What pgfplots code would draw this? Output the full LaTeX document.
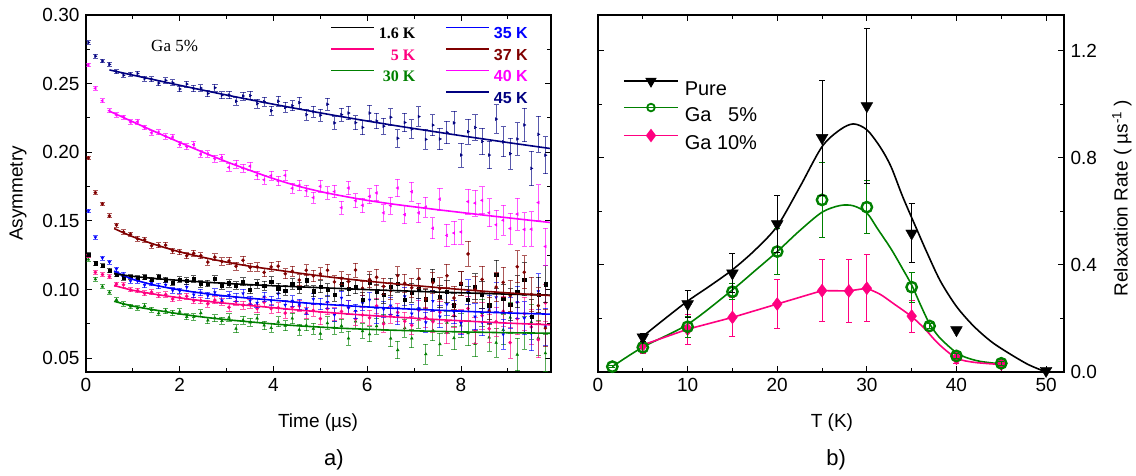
\documentclass[border=0pt]{standalone}
\usepackage{fontspec}
\setmainfont{Liberation Sans}
\newfontfamily\timesfont{Liberation Serif}
\usepackage{pgfplots}
\pgfplotsset{compat=1.18}
\usepackage{pgfplotstable}

\definecolor{cpink}{RGB}{255,0,128}
\definecolor{cgreen}{RGB}{0,128,0}
\definecolor{cblue}{RGB}{0,0,255}
\definecolor{cdred}{RGB}{128,0,0}
\definecolor{cmag}{RGB}{255,0,255}
\definecolor{cnavy}{RGB}{0,0,128}

\pgfplotstableread{
t err a16 a5 a30 a35 a37 a40 a45
0.05 .0013 .1255 .1245 .1220 .1572 .1960 .2636 .2800
0.20 .0014 .1193 .1125 .1076 .1380 .1707 .2466 .2700
0.35 .0014 .1173 .1110 .1023 .1230 .1624 .2376 .2665
0.50 .0015 .1139 .1095 .0980 .1200 .1537 .2303 .2640
0.65 .0015 .1110 .1040 .0926 .1150 .1470 .2272 .2588
0.80 .0016 .1085 .1035 .0895 .1110 .1420 .2256 .2561
0.95 .0016 .1092 .0999 .0878 .1062 .1403 .2221 .2569
1.10 .0017 .1083 .0993 .0865 .1063 .1370 .2223 .2574
1.25 .0018 .1091 .0973 .0881 .1033 .1364 .2181 .2537
1.40 .0018 .1074 .0982 .0853 .1046 .1321 .2142 .2532
1.55 .0019 .1095 .0959 .0828 .1027 .1323 .2146 .2504
1.70 .0020 .1072 .0964 .0846 .1034 .1324 .2116 .2524
1.85 .0020 .1052 .0931 .0831 .0994 .1283 .2111 .2507
2.00 .0021 .1074 .0943 .0840 .0990 .1275 .2058 .2461
2.15 .0022 .1063 .0952 .0802 .1018 .1246 .2042 .2497
2.30 .0023 .1077 .0920 .0801 .0963 .1265 .2056 .2464
2.45 .0023 .1042 .0920 .0829 .0978 .1247 .1987 .2468
2.60 .0024 .1045 .0897 .0776 .0957 .1201 .1988 .2428
2.75 .0025 .1077 .0923 .0792 .0980 .1237 .1954 .2470
2.90 .0026 .1027 .0912 .0773 .0922 .1205 .1962 .2416
3.05 .0027 .1046 .0871 .0796 .0959 .1209 .1890 .2417
3.20 .0028 .1029 .0914 .0715 .0944 .1171 .1914 .2372
3.35 .0029 .1056 .0887 .0778 .0973 .1214 .1884 .2410
3.50 .0030 .1001 .0896 .0762 .0920 .1162 .1899 .2413
3.65 .0031 .1042 .0862 .0791 .0903 .1166 .1832 .2354
3.80 .0032 .1028 .0909 .0739 .0948 .1125 .1800 .2369
3.95 .0033 .1060 .0862 .0721 .0918 .1165 .1830 .2303
4.10 .0035 .1010 .0868 .0766 .0970 .1171 .1791 .2372
4.25 .0036 .0994 .0829 .0737 .0888 .1115 .1832 .2327
4.40 .0037 .1041 .0872 .0790 .0918 .1133 .1738 .2339
4.55 .0039 .1014 .0881 .0708 .0892 .1070 .1759 .2362
4.70 .0040 .1068 .0827 .0740 .0856 .1141 .1721 .2274
4.85 .0041 .0988 .0848 .0715 .0931 .1100 .1670 .2296
5.00 .0043 .1021 .0788 .0680 .0895 .1115 .1752 .2270
5.15 .0045 .0997 .0862 .0756 .0909 .1141 .1704 .2350
5.30 .0046 .0963 .0823 .0722 .0816 .1056 .1714 .2214
5.45 .0048 .1040 .0841 .0736 .0940 .1082 .1597 .2274
5.60 .0050 .1006 .0869 .0645 .0868 .1059 .1740 .2286
5.75 .0051 .1021 .0787 .0769 .0844 .1143 .1648 .2216
5.90 .0053 .0929 .0815 .0698 .0902 .1010 .1614 .2181
6.05 .0055 .1054 .0795 .0675 .0926 .1074 .1679 .2286
6.20 .0057 .0984 .0881 .0734 .0809 .1090 .1704 .2228
6.35 .0059 .0961 .0750 .0760 .0857 .1024 .1559 .2190
6.50 .0061 .1020 .0816 .0644 .0883 .0992 .1612 .2255
6.65 .0064 .1045 .0834 .0560 .0808 .1102 .1740 .2102
6.80 .0066 .0929 .0770 .0720 .0950 .1047 .1546 .2217
6.95 .0068 .0977 .0740 .0645 .0825 .1014 .1713 .2169
7.10 .0071 .1004 .0850 .0789 .0863 .1082 .1559 .2260
7.25 .0073 .0930 .0797 .0530 .0761 .0933 .1601 .2094
7.40 .0076 .1073 .0766 .0703 .0917 .1051 .1447 .2198
7.55 .0079 .0948 .0836 .0603 .0803 .1007 .1659 .2097
7.70 .0082 .0987 .0688 .0760 .0894 .1101 .1395 .2145
7.85 .0085 .0886 .0809 .0647 .0837 .0939 .1412 .2214
8.00 .0088 .1043 .0766 .0739 .0758 .1047 .1420 .1980
8.15 .0091 .0929 .0862 .0683 .0982 .1260 .1641 .2150
8.30 .0094 .1021 .0701 .0605 .0803 .1001 .1630 .2181
8.45 .0098 .0964 .0810 .0830 .0762 .1074 .1650 .2079
8.60 .0101 .0886 .0715 .0652 .0855 .0844 .1560 .1980
8.75 .0105 .1110 .0767 .0613 .0944 .1018 .1472 .2242
8.90 .0109 .0932 .0842 .0707 .0674 .1053 .1505 .2076
9.05 .0113 .0892 .0614 .0797 .0830 .0955 .1445 .1990
9.20 .0117 .0985 .0788 .0527 .0907 .1166 .1550 .2097
9.35 .0121 .1075 .0825 .0685 .0792 .1126 .1438 .2199
9.50 .0126 .0805 .0728 .0763 .0680 .0965 .1440 .1883
9.65 .0130 .0962 .0635 .0648 .0987 .0883 .1634 .2131
9.80 .0135 .1040 .0903 .0537 .0731 .0720 .1314 .1979
}\asym

\pgfplotstableread{
T R E
5 0.130 0.015
10 0.254 0.05
15 0.369 0.072
20 0.553 0.105
25 0.875 0.215
30 0.994 0.29
35 0.518 0.11
40 0.157 0
50 0.005 0
}\pure

\pgfplotstableread{
T R E
1.6 0.020 0.005
5 0.092 0.02
10 0.169 0.04
15 0.300 0.03
20 0.450 0.085
25 0.643 0.14
30 0.616 0.10
35 0.317 0.056
37 0.172 0.01
40 0.060 0.01
45 0.0325 0.008
}\gafive

\pgfplotstableread{
T R E
5 0.101 0.032
10 0.160 0.056
15 0.204 0.073
20 0.254 0.092
25 0.304 0.115
28 0.303 0.118
30 0.313 0.125
35 0.209 0.06
40 0.051 0.02
45 0.030 0.01
}\gaten

\pgfplotsset{
  lerr/.style={only marks, mark size=1.6pt, forget plot,
    error bars/y dir=both, error bars/y explicit,
    error bars/error bar style={line width=0.9pt, opacity=0.65},
    error bars/error mark options={rotate=90, mark size=2.6pt, line width=0.9pt, opacity=0.65}},
  rerr/.style={only marks, forget plot,
    error bars/y dir=both, error bars/y explicit,
    error bars/error bar style={line width=1pt},
    error bars/error mark options={rotate=90, mark size=3pt, line width=1pt}},
}

\begin{document}
\fontsize{19}{22}\selectfont
\begin{tikzpicture}
\useasboundingbox (0,0) rectangle (1136pt,476pt);
\begin{axis}[
  at={(86pt,104pt)}, anchor=south west, scale only axis,
  width=465pt, height=357pt, clip mode=individual,
  xmin=0, xmax=9.92, ymin=0.04, ymax=0.30,
  xtick={0,2,4,6,8}, minor xtick={1,3,5,7,9},
  ytick={0.05,0.10,0.15,0.20,0.25,0.30},
  minor ytick={0.075,0.125,0.175,0.225,0.275},
  /pgf/number format/assume math mode=true,
  yticklabel style={/pgf/number format/.cd, fixed, fixed zerofill, precision=2},
  tick align=inside, major tick length=6pt, minor tick length=4pt,
  every tick/.style={black, line width=1pt},
  axis line style={line width=1.2pt},
  xlabel={Time (µs)}, ylabel={Asymmetry},
  xlabel style={at={(axis description cs:0.499,-0.143)}, anchor=center},
  ylabel style={at={(axis description cs:-0.146,0.5)}, anchor=center},
  legend columns=2, legend cell align=right,
  legend style={at={(axis description cs:0.525,0.968)}, anchor=north west,
    draw=none, fill=none, inner sep=0pt, row sep=9.5pt,
    font=\fontsize{16}{19}\selectfont,
    nodes={inner sep=0pt, text height=11.5pt, text depth=0pt},
    /tikz/every odd column/.append style={column sep=4pt},
    /tikz/every even column/.append style={column sep=30pt},
    /tikz/column 3/.append style={column sep=9pt}},
  legend image code/.code={\draw[#1] (0pt,5.5pt) -- (43pt,5.5pt);},
]
\addplot[cgreen, mark=triangle*, lerr] table[x=t, y=a30, y error=err] {\asym};
\addplot[cpink, mark=*, lerr] table[x=t, y=a5, y error=err] {\asym};
\addplot[cblue, mark=triangle*, mark options={rotate=180}, lerr] table[x=t, y=a35, y error=err] {\asym};
\addplot[black, mark=square*, mark size=1.4pt, lerr] table[x=t, y=a16, y error=err] {\asym};
\addplot[cdred, mark=*, lerr] table[x=t, y=a37, y error=err] {\asym};
\addplot[cmag, mark=triangle*, mark options={rotate=90}, lerr] table[x=t, y=a40, y error=err] {\asym};
\addplot[cnavy, mark=triangle*, mark options={rotate=-90}, lerr] table[x=t, y=a45, y error=err] {\asym};

\addplot[cgreen, line width=1.6pt, smooth, forget plot] coordinates {(0.6,.0915)(1,.0880)(1.5,.0850)(2,.0823)(2.5,.0800)(3,.0781)(3.5,.0765)(4,.0750)(4.5,.0737)(5,.0727)(5.5,.0718)(6,.0711)(6.5,.0705)(7,.0700)(7.5,.0696)(8,.0692)(8.5,.0689)(9,.0686)(9.5,.0684)(9.9,.0682)};
\addplot[cpink, line width=1.6pt, smooth, forget plot] coordinates {(0.6,.1030)(1,.0995)(1.5,.0965)(2,.0940)(2.5,.0918)(3,.0900)(3.5,.0884)(4,.0868)(4.5,.0852)(5,.0838)(5.5,.0825)(6,.0813)(6.5,.0802)(7,.0792)(7.5,.0782)(8,.0773)(8.5,.0764)(9,.0756)(9.5,.0749)(9.9,.0744)};
\addplot[cblue, line width=1.6pt, smooth, forget plot] coordinates {(0.6,.1135)(1,.1075)(1.5,.1030)(2,.0998)(2.5,.0973)(3,.0953)(3.5,.0937)(4,.0923)(4.5,.0908)(5,.0895)(5.5,.0884)(6,.0874)(6.5,.0865)(7,.0857)(7.5,.0850)(8,.0843)(8.5,.0836)(9,.0830)(9.5,.0825)(9.9,.0821)};
\addplot[black, line width=1.6pt, smooth, forget plot] coordinates {(0.6,.1115)(1,.1097)(1.5,.1080)(2,.1067)(2.5,.1055)(3,.1045)(3.5,.1036)(4,.1028)(4.5,.1021)(5,.1014)(5.5,.1007)(6,.1000)(6.5,.0994)(7,.0988)(7.5,.0982)(8,.0977)(8.5,.0972)(9,.0967)(9.5,.0963)(9.9,.0960)};
\addplot[cdred, line width=1.6pt, smooth, forget plot] coordinates {(0.6,.1445)(1,.1385)(1.5,.1325)(2,.1275)(2.5,.1235)(3,.1200)(3.5,.1170)(4,.1146)(4.5,.1122)(5,.1100)(5.5,.1080)(6,.1062)(6.5,.1045)(7,.1030)(7.5,.1015)(8,.1001)(8.5,.0988)(9,.0976)(9.5,.0965)(9.9,.0957)};
\addplot[cmag, line width=1.6pt, smooth, forget plot] coordinates {(0.5,.2300)(1,.2222)(1.5,.2146)(2,.2072)(2.5,.2000)(3,.1931)(3.5,.1868)(4,.1808)(4.5,.1756)(5,.1714)(5.5,.1680)(6,.1650)(6.5,.1625)(7,.1603)(7.5,.1582)(8,.1562)(8.5,.1542)(9,.1523)(9.5,.1504)(9.9,.1489)};
\addplot[cnavy, line width=1.6pt, smooth, forget plot] coordinates {(0.5,.2600)(1,.2562)(1.5,.2525)(2,.2488)(2.5,.2452)(3,.2417)(3.5,.2383)(4,.2350)(4.5,.2318)(5,.2287)(5.5,.2257)(6,.2228)(6.5,.2200)(7,.2173)(7.5,.2147)(8,.2121)(8.5,.2096)(9,.2071)(9.5,.2047)(9.9,.2028)};

\addlegendimage{black, line width=1.6pt}
\addlegendentry{\timesfont\bfseries 1.6 K}
\addlegendimage{cblue, line width=1.6pt}
\addlegendentry{\textcolor{cblue}{\bfseries 35 K}}
\addlegendimage{cpink, line width=1.6pt}
\addlegendentry{\textcolor{cpink}{\timesfont\bfseries 5 K}}
\addlegendimage{cdred, line width=1.6pt}
\addlegendentry{\textcolor{cdred}{\bfseries 37 K}}
\addlegendimage{cgreen, line width=1.6pt}
\addlegendentry{\textcolor{cgreen}{\timesfont\bfseries 30 K}}
\addlegendimage{cmag, line width=1.6pt}
\addlegendentry{\textcolor{cmag}{\bfseries 40 K}}
\addlegendimage{empty legend}
\addlegendentry{}
\addlegendimage{cnavy, line width=1.6pt}
\addlegendentry{\textcolor{cnavy}{\bfseries 45 K}}

\node[font=\timesfont\fontsize{17}{20}\selectfont] at (axis cs:1.89,0.2774) {Ga 5\%};
\node[font=\fontsize{22}{26}\selectfont] at (axis description cs:0.533,-0.246) {a)};
\end{axis}

\begin{axis}[
  at={(598pt,104pt)}, anchor=south west, scale only axis,
  width=466pt, height=357pt, clip mode=individual,
  xmin=0, xmax=52, ymin=0, ymax=1.334,
  xtick={0,10,20,30,40,50}, minor xtick={5,15,25,35,45},
  ytick={0,0.4,0.8,1.2}, minor ytick={0.2,0.6,1.0},
  yticklabel pos=right,
  /pgf/number format/assume math mode=true,
  yticklabel style={/pgf/number format/.cd, fixed, fixed zerofill, precision=1},
  tick align=inside, major tick length=6pt, minor tick length=4pt,
  every tick/.style={black, line width=1pt},
  axis line style={line width=1.2pt},
  xlabel={T (K)}, ylabel={Relaxation Rate ( µs\textsuperscript{-1} )},
  xlabel style={at={(axis description cs:0.502,-0.143)}, anchor=center},
  ylabel style={at={(axis description cs:1.124,0.487)}, anchor=center, rotate=0},
  legend cell align=left,
  legend style={at={(axis description cs:0.0536,0.822)}, anchor=north west,
    draw=none, fill=none, inner sep=0pt, row sep=8.5pt,
    font=\fontsize{20}{24}\selectfont,
    nodes={inner sep=0pt, text height=14pt, text depth=0pt},
    /tikz/every odd column/.append style={column sep=6pt}},
  legend image code/.code={\draw[#1, mark=none] (0pt,7pt) -- (54pt,7pt); \draw[#1] plot coordinates {(27pt,7pt)};},
]
\addplot[black, line width=1.6pt, smooth, forget plot] coordinates {(5,0.133)(7.5,0.2)(10,0.265)(12.5,0.322)(15,0.382)(17.5,0.455)(20,0.545)(22.5,0.69)(25,0.842)(27,0.905)(28.5,0.927)(30,0.905)(31.5,0.84)(32.7,0.767)(34,0.655)(35.6,0.531)(36.7,0.447)(38.2,0.340)(40,0.245)(41.9,0.172)(43.9,0.113)(45.8,0.071)(48,0.028)(50,0.0)};
\addplot[cgreen, line width=1.6pt, smooth, forget plot] coordinates {(1.6,0.02)(5,0.093)(10,0.178)(15,0.307)(17.5,0.378)(20,0.45)(22.5,0.528)(25,0.597)(27,0.622)(28.5,0.621)(30,0.594)(31.2,0.535)(32.7,0.46)(34,0.385)(35,0.325)(36,0.25)(37,0.18)(38,0.133)(39,0.1)(40,0.072)(41,0.055)(42.6,0.04)(45,0.03)};
\addplot[cpink, line width=1.6pt, forget plot] coordinates {(5,0.101)(10,0.160)(15,0.204)(20,0.254)(25,0.304)(28,0.303)(30,0.313)};
\addplot[cpink, line width=1.6pt, smooth, forget plot] coordinates {(30,0.313)(31.5,0.29)(33,0.255)(35,0.207)(36.5,0.160)(38,0.105)(40,0.052)(42,0.036)(45,0.028)};

\addplot[cpink, mark=diamond*, mark size=6.5pt, mark options={fill=cpink}, rerr] table[x=T, y=R, y error=E] {\gaten};
\addplot[cgreen, mark=o, mark size=5.2pt, mark options={line width=2.4pt, fill=white}, rerr] table[x=T, y=R, y error=E] {\gafive};
\addplot[black, mark=triangle*, mark size=6.8pt, mark options={rotate=180, fill=black}, rerr] table[x=T, y=R, y error=E] {\pure};

\addlegendimage{black, line width=1.6pt, mark=triangle*, mark size=5pt, mark options={rotate=180, fill=black}}
\addlegendentry{Pure}
\addlegendimage{cgreen, line width=1.6pt, mark=o, mark size=3.8pt, mark options={line width=1.8pt, fill=white}}
\addlegendentry{Ga \phantom{1}5\%}
\addlegendimage{cpink, line width=1.6pt, mark=diamond*, mark size=5.5pt, mark options={fill=cpink}}
\addlegendentry{Ga 10\%}

\node[font=\fontsize{22}{26}\selectfont] at (axis description cs:0.511,-0.246) {b)};
\end{axis}
\end{tikzpicture}
\end{document}
